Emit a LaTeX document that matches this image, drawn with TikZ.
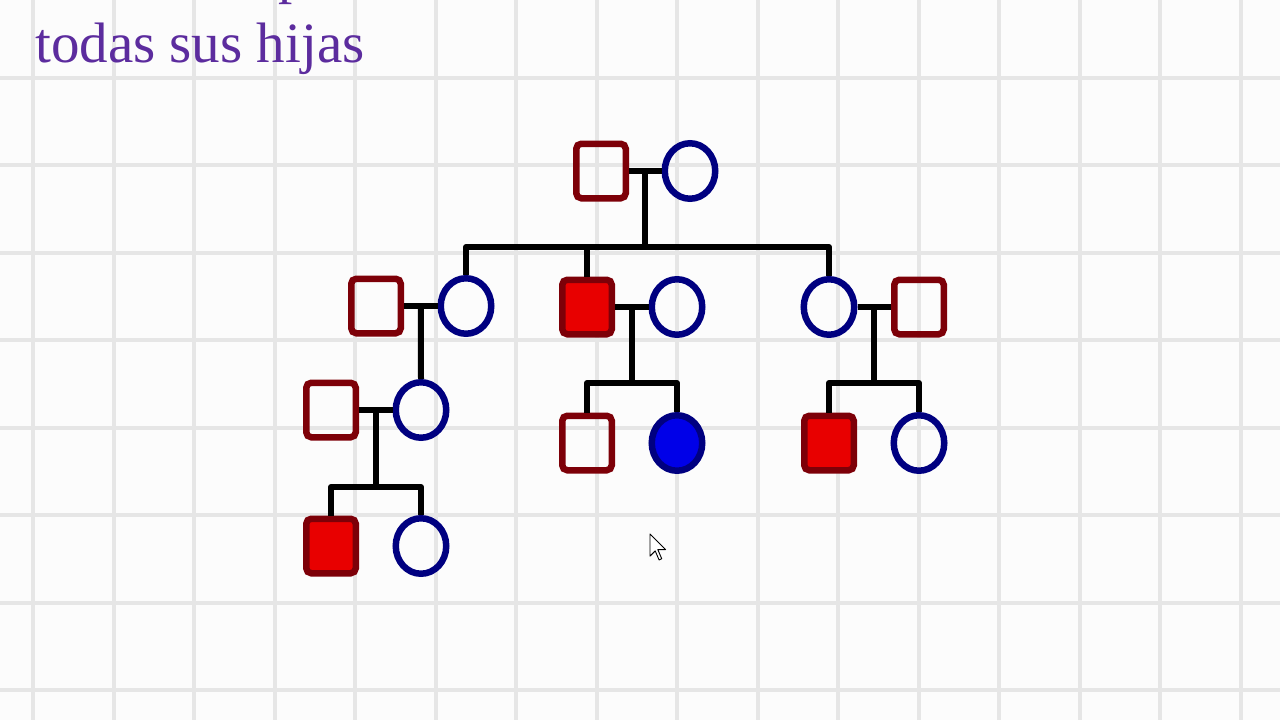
\documentclass[tikz,border=0pt]{standalone}
\usepackage{fontspec}
\setmainfont{Liberation Serif}
\usetikzlibrary{shapes.geometric}
\definecolor{gridc}{RGB}{230,230,230}
\definecolor{maleedge}{RGB}{125,0,8}
\definecolor{affred}{RGB}{232,0,0}
\definecolor{femedge}{RGB}{0,0,128}
\definecolor{affblue}{RGB}{0,0,232}
\definecolor{titlec}{RGB}{92,44,158}
\tikzset{
  male/.style={draw=maleedge, line width=6.5pt, rounded corners=5pt, rectangle, minimum width=49.5pt, minimum height=54.5pt, inner sep=0pt},
  maleaff/.style={male, fill=affred},
  female/.style={draw=femedge, line width=6.5pt, ellipse, minimum width=50.5pt, minimum height=55.5pt, inner sep=0pt},
  femaff/.style={female, fill=affblue},
  link/.style={draw=black, line width=6pt, line join=round},
  gridline/.style={draw=gridc, line width=4pt},
  title/.style={text=titlec, font=\fontsize{57}{60}\selectfont, inner sep=0pt, anchor=base west}
}
\begin{document}
\begin{tikzpicture}[x=1pt,y=-1pt]
\useasboundingbox (0,0) rectangle (1280,720);
\fill[white!99!black] (0,0) rectangle (1280,720);
% grid
\foreach \k in {0,...,15} {\draw[gridline] ({33+80.53*\k},0) -- ({33+80.53*\k},720);}
\foreach \k in {0,...,7} {\draw[gridline] (0,{78+87.43*\k}) -- (1280,{78+87.43*\k});}
% title text
\node[title] (tprev) at (278,-7) {p};
\node[title] (t1) at (35,62) {todas sus hijas};
% generation I
\node[male] (s1) at (601,171) {};
\node[female] (c1) at (690,171) {};
% generation II
\node[male] (s2a) at (376,306) {};
\node[female] (c2a) at (466,306) {};
\node[maleaff] (s2b) at (587,307) {};
\node[female] (c2b) at (677,307) {};
\node[female] (c2c) at (829,307) {};
\node[male] (s2c) at (919,307) {};
% generation III
\node[male] (s3a) at (331,410) {};
\node[female] (c3a) at (421,410) {};
\node[male] (s3b) at (587,443) {};
\node[femaff] (c3b) at (677,443) {};
\node[maleaff] (s3c) at (829,443) {};
\node[female] (c3c) at (919,443) {};
% generation IV
\node[maleaff] (s4) at (331,546) {};
\node[female] (c4) at (421,546) {};
% sibship coordinates
\coordinate (sib1) at (648,247);
\coordinate (sib2) at (632,383);
\coordinate (sib3) at (874,383);
\coordinate (sib4) at (376,487);
% couple lines
\draw[link] (s1.east) -- coordinate (m1) (c1.west);
\draw[link] (s2a.east) -- coordinate (m2a) (c2a.west);
\draw[link] (s2b.east) -- coordinate (m2b) (c2b.west);
\draw[link] (c2c.east) -- coordinate (m2c) (s2c.west);
\draw[link] (s3a.east) -- coordinate (m3a) (c3a.west);
% descent lines
\draw[link] (m1) -- (m1 |- sib1);
\draw[link] (c2a.north) -- (c2a.north |- sib1) -- (c2c.north |- sib1) -- (c2c.north);
\draw[link] (s2b.north) -- (s2b.north |- sib1);
\draw[link] (m2a) -- (c3a.north);
\draw[link] (m2b) -- (m2b |- sib2);
\draw[link] (s3b.north) -- (s3b.north |- sib2) -- (c3b.north |- sib2) -- (c3b.north);
\draw[link] (m2c) -- (m2c |- sib3);
\draw[link] (s3c.north) -- (s3c.north |- sib3) -- (c3c.north |- sib3) -- (c3c.north);
\draw[link] (m3a) -- (m3a |- sib4);
\draw[link] (s4.north) -- (s4.north |- sib4) -- (c4.north |- sib4) -- (c4.north);
% mouse cursor
\draw[black, line width=0.9pt, fill=white, line join=round, shift={(650,534)}, scale=1.3]
  (0,0) -- (0,17) -- (4,13) -- (7,20) -- (9,19) -- (6,12) -- (12,12) -- cycle;
\end{tikzpicture}
\end{document}
